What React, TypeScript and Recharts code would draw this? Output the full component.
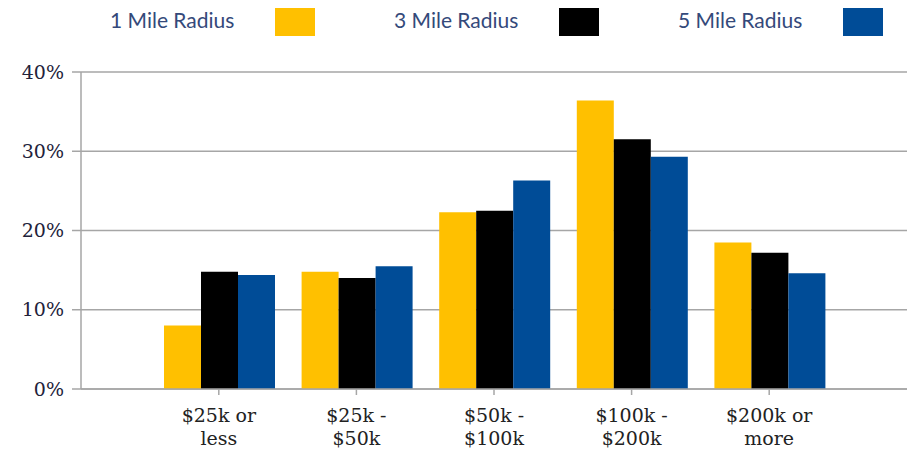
import { BarChart, Bar, XAxis, YAxis, CartesianGrid, Legend } from 'recharts';

const categories = ['$25k or less', '$25k - $50k', '$50k - $100k', '$100k - $200k', '$200k or more'];
const tickLines = [['$25k or', 'less'], ['$25k -', '$50k'], ['$50k -', '$100k'], ['$100k -', '$200k'], ['$200k or', 'more']];
const oneMile = [8.0, 14.8, 22.3, 36.4, 18.5];
const threeMile = [14.8, 14.0, 22.5, 31.5, 17.2];
const fiveMile = [14.4, 15.5, 26.3, 29.3, 14.6];
const yTicks = [0, 10, 20, 30, 40];
const seriesNames = ['1 Mile Radius', '3 Mile Radius', '5 Mile Radius'];
const seriesColors = ['#FFC000', '#000000', '#004C97'];

const data = categories.map((c, i) => ({ name: c, one: oneMile[i], three: threeMile[i], five: fiveMile[i] }));

const serif = '"DejaVu Serif", serif';

function XTick(props: any) {
  const { x, y, payload } = props;
  const lines = tickLines[categories.indexOf(payload.value)] || [payload.value];
  return (
    <text x={x} y={y} textAnchor="middle" fontFamily={serif} fontSize={19} fill="#222">
      {lines.map((l, i) => (
        <tspan key={i} x={x} dy={i === 0 ? 25 : 23}>{l}</tspan>
      ))}
    </text>
  );
}

function LegendBox() {
  return (
    <div style={{ position: 'relative', width: 915, height: 44 }}>
      {seriesNames.map((n, i) => (
        <div key={n}>
          <span style={{ position: 'absolute', left: 110 + i * 284, top: 7, fontFamily: 'Lato, sans-serif', fontSize: 21, color: '#34497a', whiteSpace: 'nowrap' }}>{n}</span>
          <span style={{ position: 'absolute', left: 275 + i * 284, top: 8, width: 40, height: 28, background: seriesColors[i] }} />
        </div>
      ))}
    </div>
  );
}

export default function App() {
  return (
    <div style={{ position: 'absolute', left: 0, top: 0, width: 915, height: 453, background: '#fff' }}>
      <BarChart width={915} height={453} data={data} margin={{ top: 28, right: 8, bottom: 0, left: 0 }} barGap={0} barCategoryGap={14}>
        <Legend verticalAlign="top" content={() => <LegendBox />} wrapperStyle={{ top: 0, left: 0 }} />
        <CartesianGrid vertical={false} stroke="#a6a6a6" strokeWidth={1.5} />
        <XAxis dataKey="name" height={64} padding={{ left: 69, right: 69 }} tick={<XTick />} tickLine={{ stroke: '#a6a6a6', strokeWidth: 1.5 }} tickSize={6} axisLine={{ stroke: '#a6a6a6', strokeWidth: 1.5 }} interval={0} />
        <YAxis width={81} domain={[0, 40]} ticks={yTicks} tickFormatter={(v) => `${v}%`} tick={{ fontFamily: serif, fontSize: 19, fill: '#22223a' }} tickLine={{ stroke: '#a6a6a6', strokeWidth: 1.5 }} tickSize={9} tickMargin={8} axisLine={{ stroke: '#a6a6a6', strokeWidth: 1.5 }} />
        <Bar dataKey="one" name={seriesNames[0]} fill={seriesColors[0]} isAnimationActive={false} />
        <Bar dataKey="three" name={seriesNames[1]} fill={seriesColors[1]} isAnimationActive={false} />
        <Bar dataKey="five" name={seriesNames[2]} fill={seriesColors[2]} isAnimationActive={false} />
      </BarChart>
    </div>
  );
}
